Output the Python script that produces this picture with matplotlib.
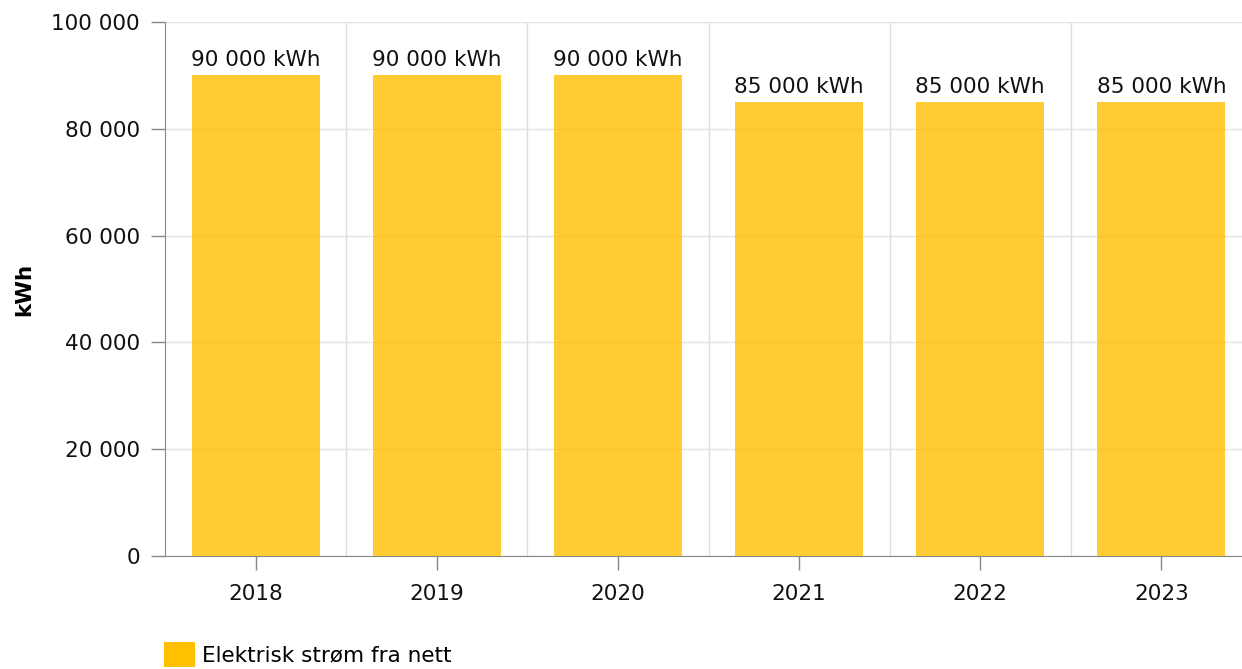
import matplotlib.pyplot as plt
from matplotlib.patches import Patch
from matplotlib.ticker import FuncFormatter

years = ['2018', '2019', '2020', '2021', '2022', '2023']
values = [90000, 90000, 90000, 85000, 85000, 85000]
series_name = 'Elektrisk strøm fra nett'
unit = 'kWh'

FS = 15.5


def fmt(v):
    return f"{int(v):,}".replace(',', ' ')


def main():
    fig = plt.figure(figsize=(12.42, 6.69), dpi=100)
    ax = fig.add_axes([165 / 1242, 113 / 669, 1087 / 1242, 534 / 669])

    x = range(len(years))
    bars = ax.bar(x, values, width=0.707, color='#FFC000', alpha=0.8, zorder=3)
    for rect, v in zip(bars, values):
        ax.annotate(f"{fmt(v)} {unit}",
                    (rect.get_x() + rect.get_width() / 2, rect.get_height()),
                    xytext=(0, 4), textcoords='offset points',
                    ha='center', va='bottom', fontsize=FS, color='#111111')

    ax.set_xlim(-0.5, len(years) - 0.5)
    ax.set_ylim(0, 100000)
    ax.set_yticks(range(0, 100001, 20000))
    ax.yaxis.set_major_formatter(FuncFormatter(lambda v, p: fmt(v)))
    ax.set_xticks(list(x))
    ax.set_xticklabels(years)
    # category boundaries as vertical grid
    ax.set_xticks([i + 0.5 for i in range(len(years) - 1)], minor=True)
    ax.tick_params(axis='x', which='minor', length=0)
    ax.grid(axis='x', which='minor', color='#dddddd', linewidth=1, zorder=0)
    ax.grid(axis='y', which='major', color='#e3e3e3', linewidth=1, zorder=0)

    ax.tick_params(axis='both', which='major', labelsize=FS, colors='#888888',
                   labelcolor='#111111', length=10, width=1)
    ax.tick_params(axis='y', pad=8)
    ax.tick_params(axis='x', pad=10)

    for side in ['top', 'right']:
        ax.spines[side].set_visible(False)
    for side in ['left', 'bottom']:
        ax.spines[side].set_color('#888888')

    ax.set_ylabel(unit, fontsize=FS, fontweight='bold', labelpad=12)

    handle = Patch(facecolor='#FFC000', edgecolor='none')
    fig.legend([handle], [series_name], loc='lower left',
               bbox_to_anchor=(145 / 1242, -17 / 669), frameon=False,
               fontsize=FS, handlelength=1.4, handleheight=1.4,
               handletextpad=0.35)

    fig.savefig('out.png', dpi=100)


if __name__ == "__main__":
    main()
